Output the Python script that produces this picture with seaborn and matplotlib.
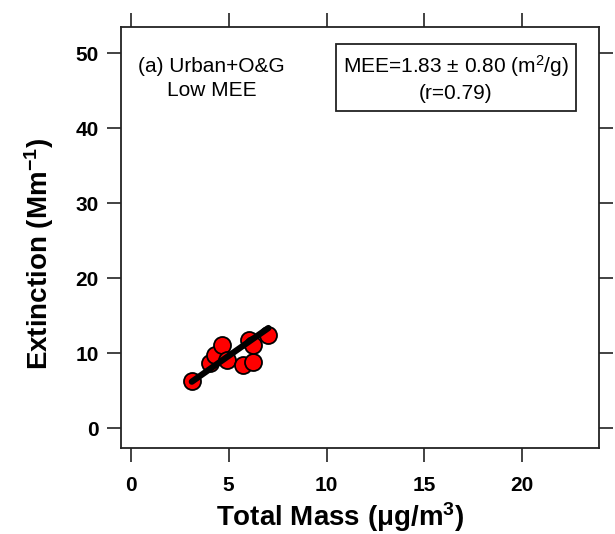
import numpy as np
import pandas as pd
import matplotlib
matplotlib.use("Agg")
import matplotlib.pyplot as plt
import seaborn as sns

# Measurements: total mass (ug/m3) vs. extinction (Mm-1)
total_mass = [3.12, 4.05, 4.30, 4.65, 4.90, 5.75, 6.26, 6.05, 6.26, 7.03]
extinction = [6.30, 8.70, 9.80, 11.10, 9.10, 8.50, 8.80, 11.80, 11.10, 12.40]

# Fitted mass extinction efficiency (slope) and intercept
mee_slope = 1.83
mee_err = 0.80
fit_intercept = 0.50
r_value = 0.79

x_ticks = [0, 5, 10, 15, 20]
y_ticks = [0, 10, 20, 30, 40, 50]

sns.set_theme(style="white")
plt.rcParams["font.family"] = ["Liberation Sans", "DejaVu Sans"]
plt.rcParams["mathtext.fontset"] = "custom"
plt.rcParams["mathtext.rm"] = "Liberation Sans"
plt.rcParams["mathtext.bf"] = "Liberation Sans:bold"
plt.rcParams["mathtext.default"] = "regular"
plt.rcParams["text.color"] = "black"
plt.rcParams["axes.labelcolor"] = "black"
plt.rcParams["xtick.color"] = "black"
plt.rcParams["ytick.color"] = "black"

fig = plt.figure(figsize=(6.15, 5.34), dpi=100)
ax = fig.add_axes([0.1963, 0.1605, 0.9745 - 0.1963, 0.9494 - 0.1605])

df = pd.DataFrame({"mass": total_mass, "ext": extinction})
x_fit = np.array([min(total_mass), max(total_mass)])
fit_df = pd.DataFrame({"mass": x_fit, "ext": mee_slope * x_fit + fit_intercept})

sns.scatterplot(data=df, x="mass", y="ext", ax=ax, s=150, color="#ff0000",
                edgecolor="black", linewidth=1.3, zorder=2, legend=False)
sns.lineplot(data=fit_df, x="mass", y="ext", ax=ax, color="black",
             linewidth=4.5, zorder=3)

ax.set_xlim(-0.51, 23.93)
ax.set_ylim(-2.67, 53.5)
ax.set_xticks(x_ticks)
ax.set_yticks(y_ticks)

for side in ["left", "right", "top", "bottom"]:
    ax.spines[side].set_visible(True)
    ax.spines[side].set_color("#222222")
    ax.spines[side].set_linewidth(1.3)

ax.tick_params(axis="both", which="major", direction="out", length=10,
               width=1.2, color="#222222", top=True, right=True,
               bottom=True, left=True, labeltop=False, labelright=False)
ax.tick_params(axis="x", pad=10, labelsize=15)
ax.tick_params(axis="y", pad=6, labelsize=15)
for lbl in ax.get_xticklabels() + ax.get_yticklabels():
    lbl.set_fontweight("bold")

ax.set_xlabel("Total Mass (\u03bcg/m$^{3}$)", fontsize=20, fontweight="bold",
              labelpad=4)
ax.set_ylabel("Extinction (Mm$^{-1}$)", fontsize=20, fontweight="bold",
              labelpad=14)
ax.xaxis.label.set_x(0.458)
ax.yaxis.label.set_y(0.462)

ax.text(0.19, 0.878, "(a) Urban+O&G\nLow MEE", transform=ax.transAxes,
        ha="center", va="center", fontsize=15, linespacing=1.3)
ax.text(0.7, 0.878,
        f"MEE={mee_slope:.2f} \u00b1 {mee_err:.2f} (m$^{{2}}$/g)\n(r={r_value:.2f})",
        transform=ax.transAxes, ha="center", va="center", fontsize=15,
        linespacing=1.35,
        bbox=dict(boxstyle="square,pad=0.35", facecolor="white",
                  edgecolor="#222222", linewidth=1.3))

fig.savefig("out.png", dpi=100)
